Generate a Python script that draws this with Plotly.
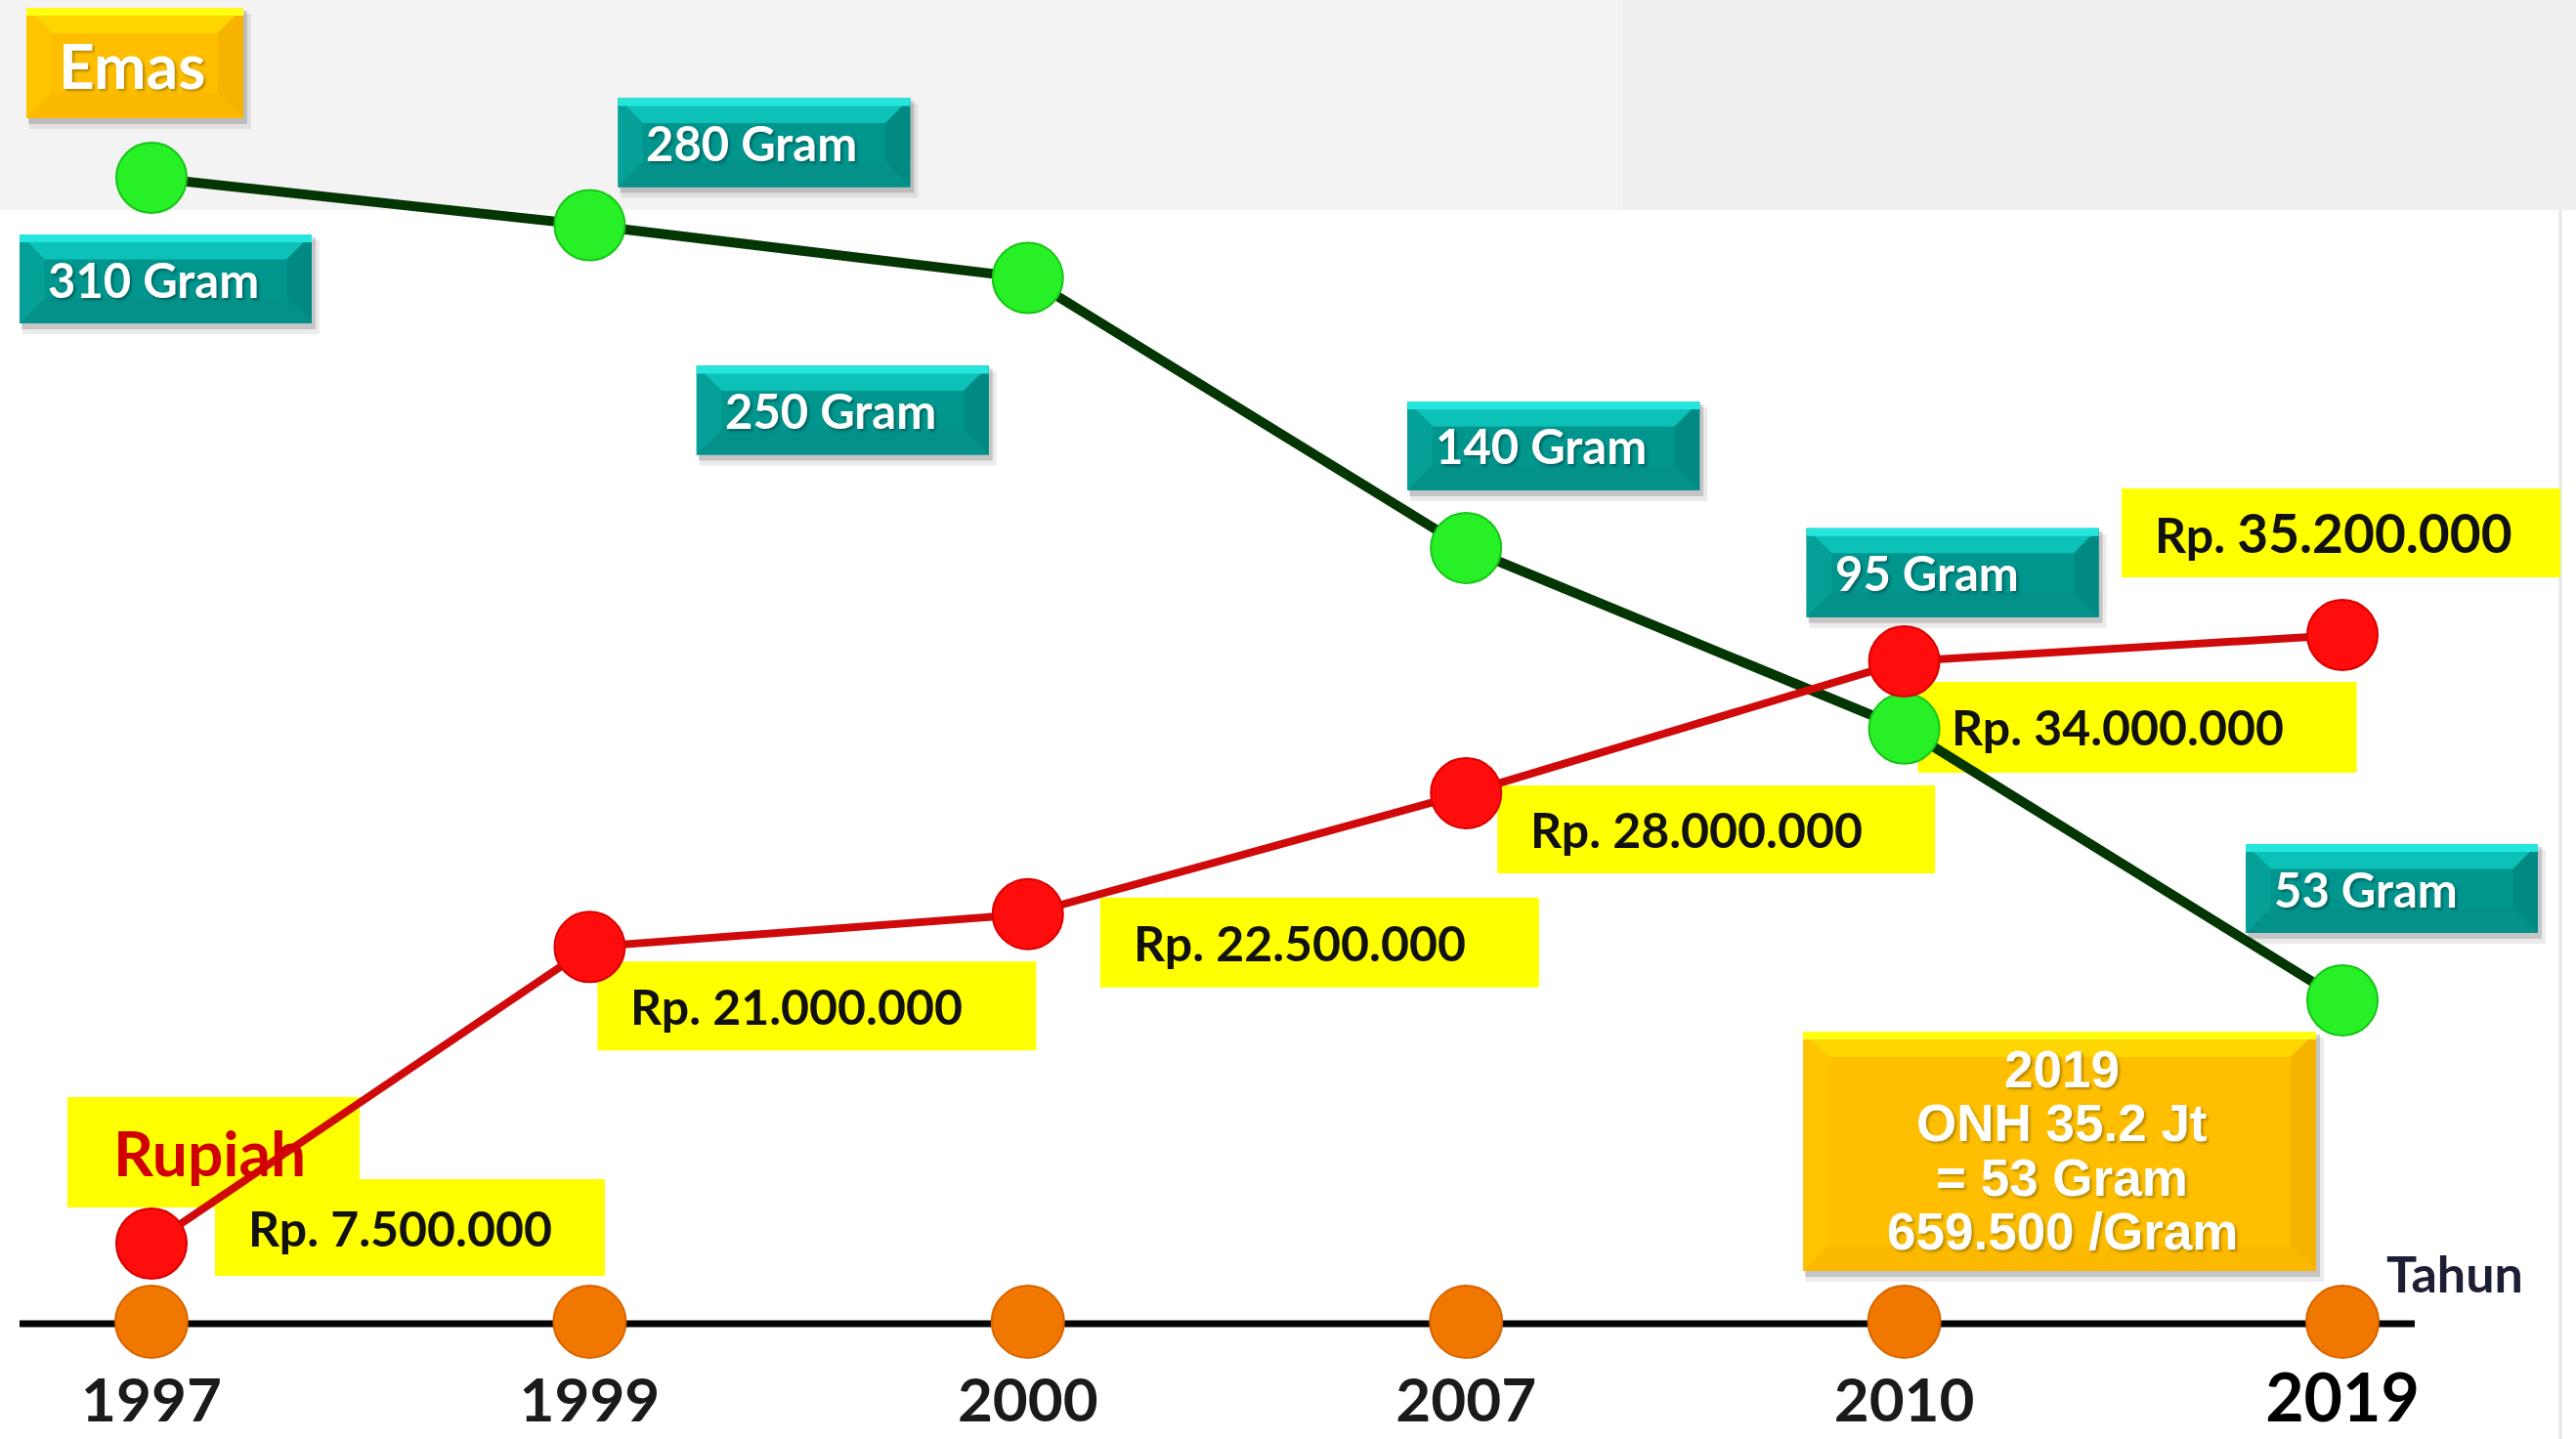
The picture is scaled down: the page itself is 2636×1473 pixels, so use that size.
import math
import plotly.graph_objects as go

# ---------------- data ----------------
years = ["1997", "1999", "2000", "2007", "2010", "2019"]
gold_gram = [310, 280, 250, 140, 95, 53]
rupiah = [7500000, 21000000, 22500000, 28000000, 34000000, 35200000]
gold_labels = ["310 Gram", "280 Gram", "250 Gram", "140 Gram", "95 Gram", "53 Gram"]
rupiah_prefix = "Rp."
rupiah_numbers = ["7.500.000", "21.000.000", "22.500.000", "28.000.000", "34.000.000", "35.200.000"]
title_gold = "Emas"
title_rupiah = "Rupiah"
axis_title = "Tahun"
summary_lines = ["2019", "ONH 35.2 Jt", "= 53 Gram", "659.500 /Gram"]

# ---------------- layout constants ----------------
W, H = 2636, 1473
BASE = 1353                      # pixel row of the timeline
FONT = "Lato, 'Open Sans', sans-serif"
FONT2 = "'Liberation Sans', Arial, sans-serif"

# label box offsets (pixels, relative to the point; y downwards)
gold_box = [(-135, 164, 58, 149), (29, 328, -130, -39), (-339, -40, 90, 181),
            (-60, 239, -150, -59), (-100, 199, -205, -114), (-99, 200, -160, -69)]
rp_box = [(65, 464, -66, 33), (8, 457, 15, 106), (74, 523, -17, 75),
          (32, 480, -8, 82), (14, 463, 21, 114), (-226, 223, -150, -59)]
rp_num_size = [50, 50, 50, 50, 50, 55]
rupiah_title_box = (-86, 213, -150, -37)

TEAL = dict(main="#00968e", top="#0cc1b8", hi="#25e6dd", left="#05a199",
            right="#018a83", bottom="#04918a")
GOLD = dict(main="#ffbf00", top="#ffd600", hi="#ffff14", left="#ffc400",
            right="#f6b300", bottom="#fbb900")

shapes = []
annotations = []


def poly(xref, yref, xa, ya, pts, color):
    path = "M " + " L ".join(f"{x},{-y}" for x, y in pts) + " Z"
    shapes.append(dict(type="path", xref=xref, yref=yref, xsizemode="pixel", ysizemode="pixel",
                       xanchor=xa, yanchor=ya, fillcolor=color, line=dict(width=0),
                       layer="below", path=path))


def rect(xref, yref, xa, ya, x0, x1, y0, y1, color):
    poly(xref, yref, xa, ya, [(x0, y0), (x1, y0), (x1, y1), (x0, y1)], color)


def bevel_box(xref, yref, xa, ya, x0, x1, y0, y1, pal):
    h = y1 - y0
    d = min(26, h * 0.28)
    rect(xref, yref, xa, ya, x0 + 3, x1 + 8, y0 + 6, y1 + 11, "rgba(0,0,0,0.08)")
    rect(xref, yref, xa, ya, x0 + 2, x1 + 4, y0 + 3, y1 + 6, "rgba(0,0,0,0.16)")
    rect(xref, yref, xa, ya, x0, x1, y0, y1, pal["main"])
    poly(xref, yref, xa, ya, [(x0, y0), (x1, y0), (x1 - d, y0 + d), (x0 + d, y0 + d)], pal["top"])
    poly(xref, yref, xa, ya, [(x0, y0), (x0 + d, y0 + d), (x0 + d, y1 - d), (x0, y1)], pal["left"])
    poly(xref, yref, xa, ya, [(x1, y0), (x1, y1), (x1 - d, y1 - d), (x1 - d, y0 + d)], pal["right"])
    poly(xref, yref, xa, ya, [(x0, y1), (x0 + d, y1 - d), (x1 - d, y1 - d), (x1, y1)], pal["bottom"])
    rect(xref, yref, xa, ya, x0, x1, y0, y0 + 8, pal["hi"])


def px_x(px):
    return px / W


def px_y(py):
    return (BASE - py) / BASE


# ---------------- background ----------------
rect("paper", "paper", 0, 1, 0, W, 0, 215, "#f3f3f3")
rect("paper", "paper", 0, 1, 1660, W, 0, 215, "#efefef")
shapes.append(dict(type="line", xref="paper", yref="paper", xsizemode="pixel", ysizemode="pixel",
                   xanchor=0, yanchor=1, x0=2620, x1=2620, y0=-215, y1=-H,
                   line=dict(color="#e6e6e6", width=3), layer="below"))
# timeline
shapes.append(dict(type="line", xref="paper", yref="paper", xsizemode="pixel", ysizemode="pixel",
                   xanchor=0, yanchor=0, x0=20, x1=2471, y0=-2, y1=-2,
                   line=dict(color="#050505", width=7), layer="below"))

# ---------------- gold labels ----------------
for i, yr in enumerate(years):
    x0, x1, y0, y1 = gold_box[i]
    bevel_box("x", "y", i, gold_gram[i], x0, x1, y0, y1, TEAL)
    annotations.append(dict(
        x=i, y=math.log10(gold_gram[i]), xref="x", yref="y", showarrow=False,
        xanchor="left", yanchor="middle", xshift=x0 + 27, yshift=-(y0 + y1) / 2,
        text=gold_labels[i],
        font=dict(family=FONT, size=49, color="white", weight="bold",
                  shadow="2px 2px 3px rgba(0,0,0,0.35)")))

# ---------------- rupiah labels ----------------
x0, x1, y0, y1 = rupiah_title_box
rect("x", "y2", 0, rupiah[0], x0, x1, y0, y1, "#ffff00")
annotations.append(dict(
    x=0, y=rupiah[0], xref="x", yref="y2", showarrow=False,
    xanchor="center", yanchor="middle", xshift=(x0 + x1) / 2 - 4, yshift=-(y0 + y1) / 2,
    text=title_rupiah, font=dict(family=FONT, size=64, color="#d00000", weight="bold")))

for i, yr in enumerate(years):
    x0, x1, y0, y1 = rp_box[i]
    rect("x", "y2", i, rupiah[i], x0, x1, y0, y1, "#ffff00")
    txt = f"{rupiah_prefix} <span style='font-size:{rp_num_size[i]}px'>{rupiah_numbers[i]}</span>"
    annotations.append(dict(
        x=i, y=rupiah[i], xref="x", yref="y2", showarrow=False,
        xanchor="left", yanchor="middle", xshift=x0 + 32, yshift=-(y0 + y1) / 2,
        text=txt, font=dict(family=FONT, size=50, color="#111111", weight="bold")))

# ---------------- title box "Emas" ----------------
bevel_box("paper", "paper", 0, 1, 27, 249, 8, 121, GOLD)
annotations.append(dict(x=px_x(135), y=px_y(66), xref="paper", yref="paper", showarrow=False,
                        xanchor="center", yanchor="middle", text=title_gold,
                        font=dict(family=FONT, size=64, color="white", weight="bold",
                                  shadow="2px 2px 3px rgba(0,0,0,0.3)")))

# ---------------- summary box ----------------
bevel_box("paper", "paper", 0, 1, 1845, 2370, 1056, 1301, GOLD)
for k, line in enumerate(summary_lines):
    annotations.append(dict(x=px_x(2110), y=px_y(1094 + 55.5 * k), xref="paper", yref="paper",
                            showarrow=False, xanchor="center", yanchor="middle", text=line,
                            font=dict(family=FONT2, size=53, color="white", weight="bold",
                                      shadow="2px 2px 3px rgba(0,0,0,0.3)")))

# ---------------- axis title ----------------
annotations.append(dict(x=px_x(2512), y=px_y(1303), xref="paper", yref="paper", showarrow=False,
                        xanchor="center", yanchor="middle", text=axis_title,
                        font=dict(family=FONT, size=52, color="#1c1f33", weight="bold")))

# ---------------- traces ----------------
fig = go.Figure()
fig.add_trace(go.Scatter(
    x=years, y=rupiah, yaxis="y2", mode="lines+markers", cliponaxis=False,
    line=dict(color="#d00a0a", width=8),
    marker=dict(size=72, color="#ff0d0d", line=dict(color="#d80000", width=2)),
    hoverinfo="skip", showlegend=False))
fig.add_trace(go.Scatter(
    x=years, y=gold_gram, yaxis="y", mode="lines+markers", cliponaxis=False,
    line=dict(color="#043604", width=10),
    marker=dict(size=72, color="#27f027", line=dict(color="#18c418", width=2)),
    hoverinfo="skip", showlegend=False))
fig.add_trace(go.Scatter(
    x=years, y=[0] * len(years), yaxis="y3", mode="markers", cliponaxis=False,
    marker=dict(size=74, color="#f07800", line=dict(color="#d86400", width=2)),
    hoverinfo="skip", showlegend=False))

ticktext = years[:-1] + [f"<span style='font-size:68px;color:#000'>{years[-1]}</span>"]

hidden = dict(showticklabels=False, showgrid=False, zeroline=False, showline=False,
              ticks="", fixedrange=True)

fig.update_layout(
    width=W, height=H,
    margin=dict(l=0, r=0, t=0, b=H - BASE, pad=0, autoexpand=False),
    paper_bgcolor="white", plot_bgcolor="rgba(0,0,0,0)",
    showlegend=False, hovermode=False,
    xaxis=dict(type="category", domain=[0, 1], range=[-0.34567, 5.53301],
               showgrid=False, zeroline=False, showline=False,
               ticks="outside", ticklen=27, tickcolor="rgba(0,0,0,0)",
               tickvals=years, ticktext=ticktext,
               tickfont=dict(family=FONT, size=62, color="#1a1a1a", weight="bold"),
               automargin=False, fixedrange=True),
    yaxis=dict(type="log", range=[1.42458, 2.65716], domain=[0, 1], **hidden),
    yaxis2=dict(overlaying="y", range=[3.943e6, 64.10e6], **hidden),
    yaxis3=dict(overlaying="y", range=[0, 1], **hidden),
    shapes=shapes, annotations=annotations,
)

fig.write_html("out.html")
